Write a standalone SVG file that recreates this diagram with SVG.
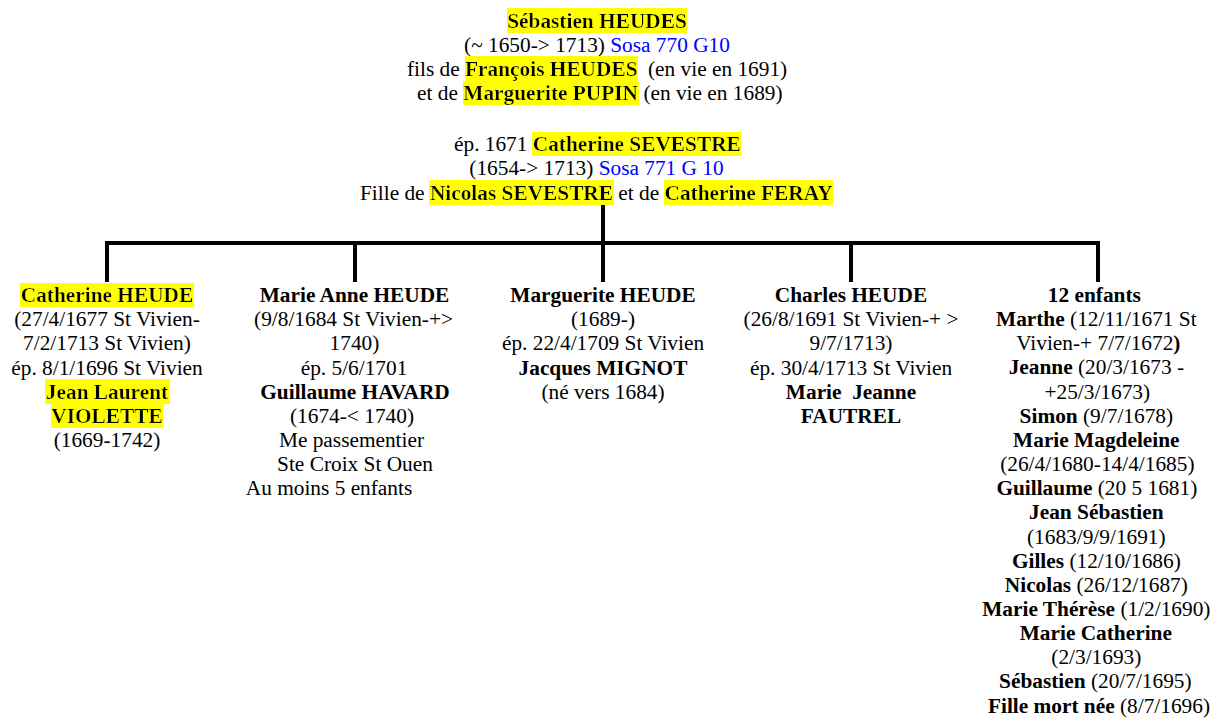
<svg xmlns="http://www.w3.org/2000/svg" width="1220" height="722" viewBox="0 0 1220 722">
  <style>
    .t { font-family: "Liberation Serif", "Times New Roman", serif; font-size: 21.33px; fill: #000; }
    .b { font-weight: bold; }
    .m { text-anchor: middle; }
    .sosa { fill: #0000ff; }
    .hl { filter: url(#hl); }
    .link { fill: none; stroke: #000; stroke-width: 4; stroke-linejoin: miter; }
  </style>
  <defs>
    <!-- yellow marker behind highlighted names: fills the text's own box -->
    <filter id="hl" x="0" y="0" width="1" height="1">
      <feFlood flood-color="#ffff00"/>
      <feComposite in="SourceGraphic"/>
    </filter>
  </defs>
  <rect width="1220" height="722" fill="#fff"/>

  <!-- couple: Sébastien HEUDES & Catherine SEVESTRE -->
  <g id="parents">
    <text class="t b m hl" x="597" y="27.5">Sébastien HEUDES</text>
    <text class="t m" x="597" y="51.7">(~ 1650-&gt; 1713) <tspan class="sosa">Sosa 770 G10</tspan></text>
    <text class="t" x="407" y="75.9">fils de</text>
    <text class="t b hl" x="465.1" y="75.9">François HEUDES</text>
    <text class="t" x="648" y="75.9">(en vie en 1691)</text>
    <text class="t" x="417" y="100">et de</text>
    <text class="t b hl" x="463.3" y="100">Marguerite PUPIN</text>
    <text class="t" x="643.4" y="100">(en vie en 1689)</text>

    <text class="t" x="454" y="151">ép. 1671</text>
    <text class="t b hl" x="532.8" y="151">Catherine SEVESTRE</text>
    <text class="t m" x="596.5" y="175.4">(1654-&gt; 1713) <tspan class="sosa">Sosa 771 G 10</tspan></text>
    <text class="t" x="360" y="199.8">Fille de</text>
    <text class="t b hl" x="429.9" y="199.8">Nicolas SEVESTRE</text>
    <text class="t" x="618.3" y="199.8">et de</text>
    <text class="t b hl" x="664.5" y="199.8">Catherine FERAY</text>
  </g>

  <!-- family tree lines -->
  <g id="connectors">
    <path class="link" d="M107 282 V243 H1098 V282 M355 243 V282 M603 205 V282 M851 243 V282"/>
  </g>

  <g id="child-catherine">
    <text class="t b m hl" x="107" y="302">Catherine HEUDE</text>
    <text class="t m" x="107" y="326.2">(27/4/1677 St Vivien-</text>
    <text class="t m" x="107" y="350.3">7/2/1713 St Vivien)</text>
    <text class="t m" x="107" y="374.5">ép. 8/1/1696 St Vivien</text>
    <text class="t b m hl" x="107" y="398.6">Jean Laurent</text>
    <text class="t b m hl" x="107" y="422.8">VIOLETTE</text>
    <text class="t m" x="107" y="446.9">(1669-1742)</text>
  </g>

  <g id="child-marie-anne">
    <text class="t b m" x="354.5" y="302">Marie Anne HEUDE</text>
    <text class="t m" x="353.5" y="326.2">(9/8/1684 St Vivien-+&gt;</text>
    <text class="t m" x="354.5" y="350.3">1740)</text>
    <text class="t m" x="354" y="374.5">ép. 5/6/1701</text>
    <text class="t b m" x="355" y="398.6">Guillaume HAVARD</text>
    <text class="t m" x="352" y="422.8">(1674-&lt; 1740)</text>
    <text class="t m" x="351.5" y="446.9">Me passementier</text>
    <text class="t m" x="355" y="471.1">Ste Croix St Ouen</text>
    <text class="t m" x="329" y="495.2">Au moins 5 enfants</text>
  </g>

  <g id="child-marguerite">
    <text class="t b m" x="603" y="302">Marguerite HEUDE</text>
    <text class="t m" x="603" y="326.2">(1689-)</text>
    <text class="t m" x="603" y="350.3">ép. 22/4/1709 St Vivien</text>
    <text class="t b m" x="603" y="374.5">Jacques MIGNOT</text>
    <text class="t m" x="603" y="398.6">(né vers 1684)</text>
  </g>

  <g id="child-charles">
    <text class="t b m" x="851" y="302">Charles HEUDE</text>
    <text class="t m" x="851" y="326.2">(26/8/1691 St Vivien-+ &gt;</text>
    <text class="t m" x="851" y="350.3">9/7/1713)</text>
    <text class="t m" x="851" y="374.5">ép. 30/4/1713 St Vivien</text>
    <text class="t b m" x="851" y="398.6" xml:space="preserve">Marie  Jeanne</text>
    <text class="t b m" x="851" y="422.8">FAUTREL</text>
  </g>

  <g id="children-others">
    <text class="t m" x="1099" y="302">
      <tspan class="b" x="1097" y="302">12 enfants</tspan>
      <tspan x="1099" dy="24.15"><tspan class="b">Marthe</tspan> (12/11/1671 St</tspan>
      <tspan x="1101" dy="24.15">Vivien-+ 7/7/1672<tspan class="b">)</tspan></tspan>
      <tspan x="1099" dy="24.15"><tspan class="b">Jeanne</tspan> (20/3/1673 -</tspan>
      <tspan x="1100" dy="24.15">+25/3/1673)</tspan>
      <tspan x="1099" dy="24.15"><tspan class="b">Simon</tspan> (9/7/1678)</tspan>
      <tspan class="b" x="1099" dy="24.15">Marie Magdeleine</tspan>
      <tspan x="1100" dy="24.15">(26/4/1680-14/4/1685)</tspan>
      <tspan x="1099.5" dy="24.15"><tspan class="b">Guillaume</tspan> (20 5 1681)</tspan>
      <tspan class="b" x="1099" dy="24.15">Jean Sébastien</tspan>
      <tspan x="1099" dy="24.15">(1683/9/9/1691)</tspan>
      <tspan x="1099" dy="24.15"><tspan class="b">Gilles</tspan> (12/10/1686)</tspan>
      <tspan x="1099" dy="24.15"><tspan class="b">Nicolas</tspan> (26/12/1687)</tspan>
      <tspan x="1099" dy="24.15"><tspan class="b">Marie Thérèse</tspan> (1/2/1690)</tspan>
      <tspan class="b" x="1098.5" dy="24.15">Marie Catherine</tspan>
      <tspan x="1099" dy="24.15">(2/3/1693)</tspan>
      <tspan x="1098" dy="24.15"><tspan class="b">Sébastien</tspan> (20/7/1695)</tspan>
      <tspan x="1099" dy="24.15"><tspan class="b">Fille mort née</tspan> (8/7/1696)</tspan>
    </text>
  </g>
</svg>
